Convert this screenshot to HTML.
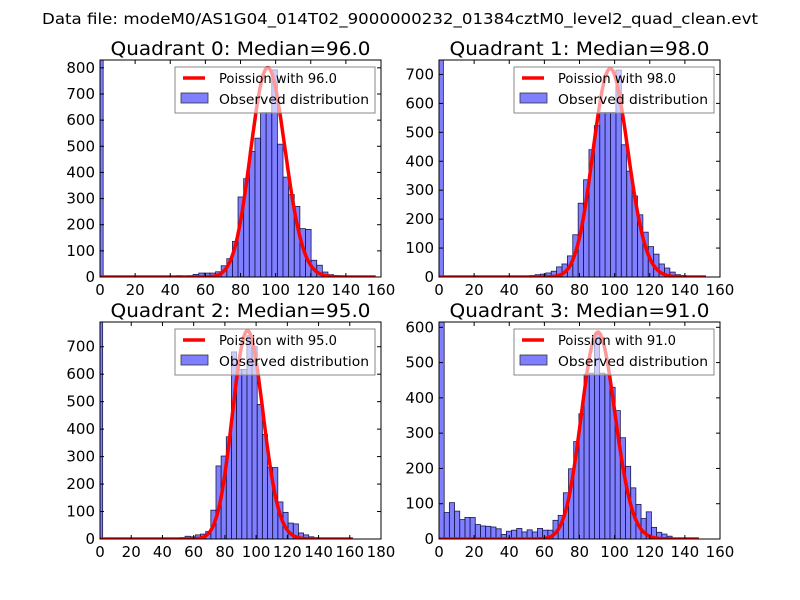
<!DOCTYPE html>
<html><head><meta charset="utf-8"><style>
body{margin:0;background:#fff;}
svg{display:block;font-family:"DejaVu Sans","Liberation Sans",sans-serif;}
</style></head><body>
<svg id="fig" width="800" height="600" viewBox="0 0 800 600">
<rect width="800" height="600" fill="#fff"/>
<text x="400" y="24" text-anchor="middle" font-size="15.5" textLength="716" lengthAdjust="spacingAndGlyphs">Data file: modeM0/AS1G04_014T02_9000000232_01384cztM0_level2_quad_clean.evt</text>
</svg>
<script>
// ---- data ----
const q0Counts=[830,0,0,0,0,0,0,0,0,0,0,0,0,0,5,3,5,10,15,15,15,20,43,70,136,306,376,480,531,629,629,792,508,382,315,270,185,182,64,45,19,9,5,2];
const q1Counts=[750,0,0,0,0,0,0,0,0,0,0,0,0,0,0,0,3,5,8,10,14,20,35,45,73,146,255,336,440,523,569,569,569,715,457,366,280,215,155,105,79,45,31,17,8,5,2,1];
const q2Counts=[790,0,0,0,0,0,0,0,0,0,0,0,0,0,0,3,5,10,8,15,18,27,105,266,302,372,681,617,617,740,700,490,381,260,260,135,97,58,55,22,15,8,5,3];
const q3Counts=[615,75,103,79,55,61,61,41,37,36,34,29,13,22,25,30,20,26,20,30,25,25,53,67,131,199,276,355,467,470,580,470,467,430,364,287,206,145,98,58,77,33,19,14,8,3];
const medians=[96,98,95,91];
const poissonPeaks=[800,720,758,586];
const curveEnds=[157,152,162,148];
const binStarts=[-1.4,-0.58,-1.6,0];
const binWidths=[3.2,3.07,3.3,2.95];
const xMaxes=[160,160,180,160];
const yMaxes=[830,750,790,615];
const yTickMax=[800,700,700,600];
const allCounts=[q0Counts,q1Counts,q2Counts,q3Counts];
// ---- layout ----
const boxes=[[100,60,381,277],[439,60,720,277],[100,322,381,539],[439,322,720,539]];
const NS="http://www.w3.org/2000/svg";
const fig=document.getElementById('fig');
function mk(tag,attrs,parent){const e=document.createElementNS(NS,tag);for(const k in attrs)e.setAttribute(k,attrs[k]);(parent||fig).appendChild(e);return e;}
function lgamma(n){if(n<1)return 0;let s=0;for(let i=2;i<=n;i++)s+=Math.log(i);return s;}
for(let q=0;q<4;q++){
  const [L,T,R,B]=boxes[q];
  const sx=v=>L+(v/xMaxes[q])*(R-L);
  const sy=v=>B-(Math.min(v,yMaxes[q])/yMaxes[q])*(B-T);
  const g=mk('g',{});
  
  
  const cp=mk('clipPath',{id:'cp'+q},g);mk('rect',{x:L,y:T,width:R-L,height:B-T},cp);
  const plot=mk('g',{'clip-path':'url(#cp'+q+')'},g);
  const counts=allCounts[q];
  counts.forEach((c,i)=>{
    if(c<=0)return;
    let x0=binStarts[q]+i*binWidths[q],x1=x0+binWidths[q];
    x0=Math.max(0,x0);
    const r=mk('rect',{x:sx(x0),y:sy(c),width:sx(x1)-sx(x0),height:B-sy(c),fill:'rgba(0,0,255,0.5)',stroke:'#1a1a4a','stroke-width':0.8},plot);
    
    
  });
  const m=medians[q];const lpm=m*Math.log(m)-m-lgamma(Math.round(m));
  let d='';
  for(let k=0;k<=curveEnds[q];k++){
    const v=poissonPeaks[q]*Math.exp(k*Math.log(m)-m-lgamma(k)-lpm);
    d+=(k?'L':'M')+sx(k).toFixed(1)+','+sy(v).toFixed(1);
  }
  const line=mk('path',{d:d,fill:'none',stroke:'#ff0000','stroke-width':3.5,'stroke-linejoin':'round'},plot);
  
  
  // legend
  const lx=L+75,ly=T+7;
  const lg=mk('g',{},g);
  
  
  mk('rect',{x:lx,y:ly,width:200,height:46,fill:'rgba(255,255,255,0.6)',stroke:'#888','stroke-width':1},lg);
  mk('line',{x1:lx+8,y1:ly+11,x2:lx+30,y2:ly+11,stroke:'#f00','stroke-width':3.5},lg);
  mk('rect',{x:lx+6,y:ly+26,width:27,height:10,fill:'rgba(0,0,255,0.5)',stroke:'#333','stroke-width':0.8},lg);
  const t1=mk('text',{x:lx+44,y:ly+16,'font-size':13.5,textLength:118,lengthAdjust:'spacingAndGlyphs'},lg);t1.textContent='Poission with '+m.toFixed(1);
  const t2=mk('text',{x:lx+44,y:ly+37,'font-size':13.5,textLength:150,lengthAdjust:'spacingAndGlyphs'},lg);t2.textContent='Observed distribution';
  // frame
  mk('rect',{x:L,y:T,width:R-L,height:B-T,fill:'none',stroke:'#000','stroke-width':1},g);
  // ticks
  for(let v=0;v<=xMaxes[q];v+=20){
    const x=sx(v);
    mk('line',{x1:x,y1:B,x2:x,y2:B-4,stroke:'#000'},g);
    mk('line',{x1:x,y1:T,x2:x,y2:T+4,stroke:'#000'},g);
    const t=mk('text',{x:x,y:B+18,'font-size':15,'text-anchor':'middle'},g);t.textContent=v;
    
    
  }
  for(let v=0;v<=yTickMax[q];v+=100){
    const y=sy(v);
    mk('line',{x1:L,y1:y,x2:L+4,y2:y,stroke:'#000'},g);
    mk('line',{x1:R,y1:y,x2:R-4,y2:y,stroke:'#000'},g);
    const t=mk('text',{x:L-5,y:y+5,'font-size':15,'text-anchor':'end'},g);t.textContent=v;
    
    
  }
  const ti=mk('text',{x:(L+R)/2,y:T-5,'font-size':19,'text-anchor':'middle',textLength:260,lengthAdjust:'spacingAndGlyphs'},g);
  ti.textContent='Quadrant '+q+': Median='+m.toFixed(1);
  
  
}
</script>
</body></html>
